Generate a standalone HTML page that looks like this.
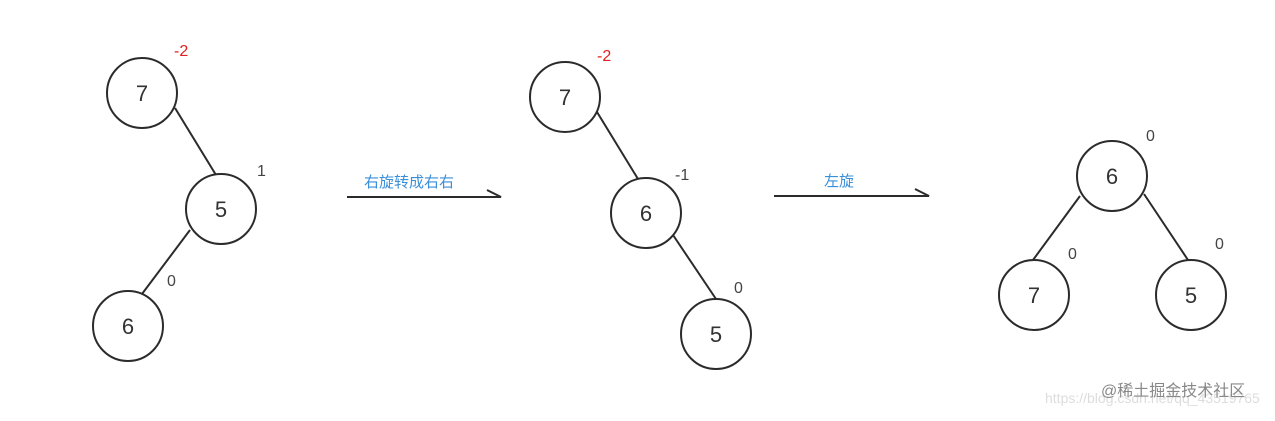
<!DOCTYPE html>
<html><head><meta charset="utf-8"><style>
body{margin:0;background:#fff;}
svg text{font-family:"Liberation Sans","Noto Sans CJK SC",sans-serif;}
</style></head><body>
<svg width="1275" height="416" viewBox="0 0 1275 416" xmlns="http://www.w3.org/2000/svg">
<g stroke="#2b2b2b" stroke-width="2" fill="#fff">
<line x1="175" y1="108" x2="216" y2="175"/>
<line x1="190" y1="230" x2="142" y2="294"/>
<line x1="597" y1="112" x2="638" y2="179"/>
<line x1="673" y1="235" x2="716" y2="299"/>
<line x1="1080" y1="196" x2="1033" y2="260"/>
<line x1="1144" y1="194" x2="1188" y2="260"/>
<circle cx="142" cy="93" r="35"/>
<circle cx="221" cy="209" r="35"/>
<circle cx="128" cy="326" r="35"/>
<circle cx="565" cy="97" r="35"/>
<circle cx="646" cy="213" r="35"/>
<circle cx="716" cy="334" r="35"/>
<circle cx="1112" cy="176" r="35"/>
<circle cx="1034" cy="295" r="35"/>
<circle cx="1191" cy="295" r="35"/>
<polyline fill="none" points="347,197 501,197 487,190"/>
<polyline fill="none" points="774,196 929,196 915,189"/>
</g>
<g font-size="22" fill="#333" text-anchor="middle">
<text x="142" y="101">7</text><text x="221" y="217">5</text><text x="128" y="334">6</text>
<text x="565" y="105">7</text><text x="646" y="221">6</text><text x="716" y="342">5</text>
<text x="1112" y="184">6</text><text x="1034" y="303">7</text><text x="1191" y="303">5</text>
</g>
<g font-size="16" fill="#444">
<text x="174" y="56" fill="#e02020">-2</text>
<text x="257" y="176">1</text>
<text x="167" y="286">0</text>
<text x="597" y="61" fill="#e02020">-2</text>
<text x="675" y="180">-1</text>
<text x="734" y="293">0</text>
<text x="1146" y="141">0</text>
<text x="1068" y="259">0</text>
<text x="1215" y="249">0</text>
</g>
<g font-size="15" fill="#3a8fd9">
<text x="364" y="187">右旋转成右右</text>
<text x="824" y="186">左旋</text>
</g>
<text x="1045" y="403" font-size="14" fill="#ddd">https://blog.csdn.net/qq_43519765</text>
<text x="1101" y="396" font-size="16" fill="#888">@稀土掘金技术社区</text>
</svg>
</body></html>
